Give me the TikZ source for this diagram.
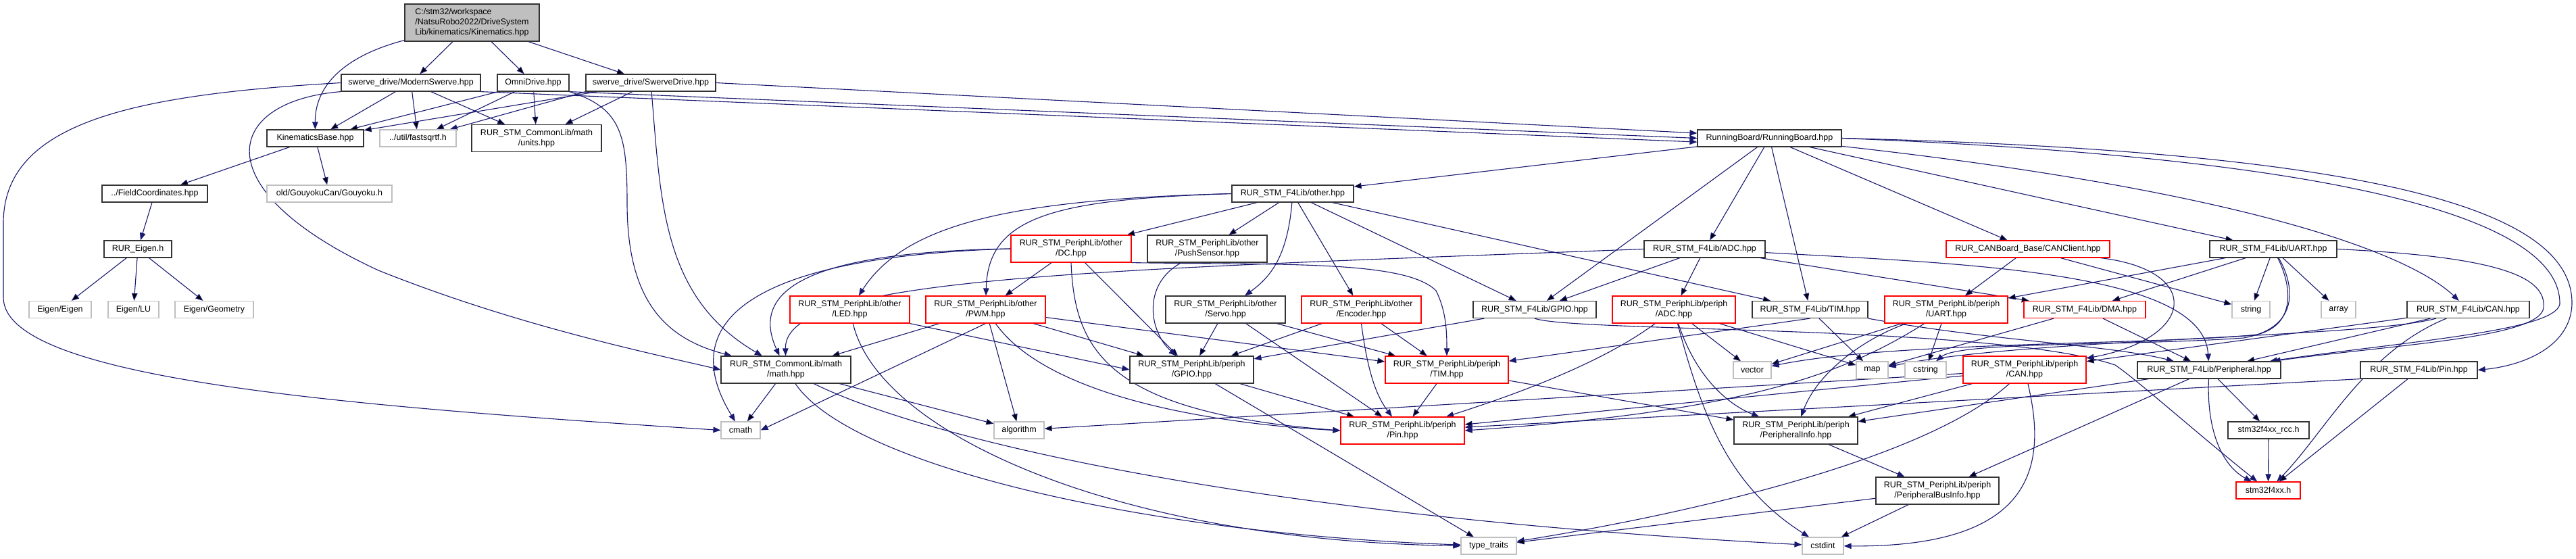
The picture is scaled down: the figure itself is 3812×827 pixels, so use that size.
\documentclass[tikz,border=0pt]{standalone}
\usepackage{fontspec}
\setmainfont{Liberation Sans}
\usepackage{tikz}
\usetikzlibrary{arrows.meta, backgrounds}

\definecolor{depblue}{RGB}{25,25,112}
\definecolor{sysgray}{RGB}{191,191,191}
\newcommand{\graphfont}{\fontsize{12.5}{15}\selectfont}

\begin{document}
\begin{tikzpicture}[x=1pt, y=-1pt, every node/.style={font=\graphfont},
    hdr/.style={draw=black!80, fill=white, line width=1.2pt, inner sep=0pt, align=center, minimum height=25},
    two/.style={minimum height=40},
    sys/.style={hdr, draw=sysgray},
    trunc/.style={hdr, draw=red},
    dep/.style={draw=depblue, line width=1.1pt, -{Triangle[length=11pt, width=8.5pt]}}]

    % 0. canvas of the whole graph
    \useasboundingbox (0,0) rectangle (3812,827);

    % 1. Kinematics.hpp and the drive headers
    \node[hdr, fill=sysgray, align=left, minimum width=199, minimum height=55] (root) at (698.5,33.5)
        {C:/stm32/workspace\\/NatsuRobo2022/DriveSystem\\Lib/kinematics/Kinematics.hpp};
    \node[hdr, minimum width=206] (modern) at (608,122.5) {swerve\_drive/ModernSwerve.hpp};
    \node[hdr, minimum width=106] (omni) at (789,122.5) {OmniDrive.hpp};
    \node[hdr, minimum width=192] (swerve) at (963,122.5) {swerve\_drive/SwerveDrive.hpp};

    % 2. second and third row
    \node[hdr, minimum width=143] (kbase) at (466.5,204.5) {KinematicsBase.hpp};
    \node[sys, minimum width=113] (fsqrt) at (618.5,204.5) {../util/fastsqrtf.h};
    \node[hdr, two, minimum width=192] (units) at (794,204.5) {RUR\_STM\_CommonLib/math\\/units.hpp};
    \node[hdr, minimum width=213] (rb) at (2618.5,204.5) {RunningBoard/RunningBoard.hpp};
    \node[hdr, minimum width=156] (field) at (229,286.5) {../FieldCoordinates.hpp};
    \node[sys, minimum width=185] (gouyoku) at (487.5,286.5) {old/GouyokuCan/Gouyoku.h};
    \node[hdr, minimum width=180] (other) at (1913,286.5) {RUR\_STM\_F4Lib/other.hpp};

    % 3. fourth row
    \node[hdr, minimum width=100] (eigen) at (204,368.5) {RUR\_Eigen.h};
    \node[trunc, two, minimum width=178] (dc) at (1585,368) {RUR\_STM\_PeriphLib/other\\/DC.hpp};
    \node[hdr, two, minimum width=177] (push) at (1786.5,368) {RUR\_STM\_PeriphLib/other\\/PushSensor.hpp};
    \node[hdr, minimum width=179] (adcf) at (2522.5,368.5) {RUR\_STM\_F4Lib/ADC.hpp};
    \node[trunc, minimum width=242] (canclient) at (3001,368.5) {RUR\_CANBoard\_Base/CANClient.hpp};
    \node[hdr, minimum width=188] (uartf) at (3364,368.5) {RUR\_STM\_F4Lib/UART.hpp};

    % 4. fifth row
    \node[sys, minimum width=92] (eeigen) at (89,458) {Eigen/Eigen};
    \node[sys, minimum width=75] (elu) at (197.5,458) {Eigen/LU};
    \node[sys, minimum width=116] (egeom) at (317,458) {Eigen/Geometry};
    \node[trunc, two, minimum width=177] (led) at (1257.5,458) {RUR\_STM\_PeriphLib/other\\/LED.hpp};
    \node[trunc, two, minimum width=177] (pwm) at (1458.5,458) {RUR\_STM\_PeriphLib/other\\/PWM.hpp};
    \node[hdr, two, minimum width=177] (servo) at (1813.5,458) {RUR\_STM\_PeriphLib/other\\/Servo.hpp};
    \node[trunc, two, minimum width=177] (encoder) at (2014.5,458) {RUR\_STM\_PeriphLib/other\\/Encoder.hpp};
    \node[hdr, minimum width=182] (gpiof) at (2271,458) {RUR\_STM\_F4Lib/GPIO.hpp};
    \node[trunc, two, minimum width=182] (adcp) at (2477,458) {RUR\_STM\_PeriphLib/periph\\/ADC.hpp};
    \node[hdr, minimum width=171] (timf) at (2678.5,458) {RUR\_STM\_F4Lib/TIM.hpp};
    \node[trunc, two, minimum width=182] (uartp) at (2880,458) {RUR\_STM\_PeriphLib/periph\\/UART.hpp};
    \node[trunc, minimum width=180] (dmaf) at (3085,458) {RUR\_STM\_F4Lib/DMA.hpp};
    \node[sys, minimum width=56] (string) at (3331,458) {string};
    \node[sys, minimum width=51] (array) at (3460.5,458) {array};
    \node[hdr, minimum width=181] (canf) at (3652.5,458) {RUR\_STM\_F4Lib/CAN.hpp};

    % 5. sixth row
    \node[hdr, two, minimum width=192] (math) at (1163,547) {RUR\_STM\_CommonLib/math\\/math.hpp};
    \node[hdr, two, minimum width=183] (gpiop) at (1763.5,547) {RUR\_STM\_PeriphLib/periph\\/GPIO.hpp};
    \node[trunc, two, minimum width=182] (timp) at (2141,547) {RUR\_STM\_PeriphLib/periph\\/TIM.hpp};
    \node[sys, minimum width=56] (vector) at (2593,547.5) {vector};
    \node[sys, minimum width=47] (map) at (2770.5,547.5) {map};
    \node[sys, minimum width=61] (cstring) at (2849.5,547.5) {cstring};
    \node[trunc, two, minimum width=182] (canp) at (2996,547) {RUR\_STM\_PeriphLib/periph\\/CAN.hpp};
    \node[hdr, minimum width=212] (periphf) at (3269,547.5) {RUR\_STM\_F4Lib/Peripheral.hpp};
    \node[hdr, minimum width=173] (pinf) at (3579.5,547.5) {RUR\_STM\_F4Lib/Pin.hpp};

    % 6. bottom rows
    \node[sys, minimum width=58] (cmath) at (1096,636.5) {cmath};
    \node[sys, minimum width=74] (algorithm) at (1508,636.5) {algorithm};
    \node[trunc, two, minimum width=183] (pinp) at (2075.5,637) {RUR\_STM\_PeriphLib/periph\\/Pin.hpp};
    \node[hdr, two, minimum width=183] (pinfo) at (2657.5,637) {RUR\_STM\_PeriphLib/periph\\/PeripheralInfo.hpp};
    \node[hdr, minimum width=120] (rcc) at (3357,636.5) {stm32f4xx\_rcc.h};
    \node[hdr, two, minimum width=182] (businfo) at (2867,726) {RUR\_STM\_PeriphLib/periph\\/PeripheralBusInfo.hpp};
    \node[trunc, minimum width=95] (stm) at (3356.5,725.5) {stm32f4xx.h};
    \node[sys, minimum width=82] (traits) at (2203,807.5) {type\_traits};
    \node[sys, minimum width=61] (cstdint) at (2697.5,807.5) {cstdint};

    \begin{pgfonlayer}{background}
    \fill[white] (0,0) rectangle (3812,827);

    % 7. includes of the top headers
    \draw[dep] (root) edge (modern) edge (omni) edge (swerve);
    \draw[dep] (root) .. controls (520,80) and (466,120) .. (kbase);
    \draw[dep] (modern) edge (kbase) edge (fsqrt) edge (units);
    \draw[dep] (omni) edge (kbase) edge (fsqrt) edge (units);
    \draw[dep] (swerve) edge (kbase) edge (units);
    \draw[dep] (swerve.south west) -- (fsqrt);
    \draw[dep] (modern.south east) -- (rb.183);
    \draw[dep] (omni.south east) -- (rb.180);
    \draw[dep] (swerve.east) -- (rb.176);
    \draw[dep] (modern.south west) .. controls (330,150) and (300,280) .. (560,400)
        .. controls (760,480) and (950,520) .. (math.west);
    \draw[dep] (modern.west) .. controls (200,140) and (5,180) .. (5,330) -- (5,440)
        .. controls (5,560) and (500,600) .. (cmath.west);
    \draw[dep] (omni.south east) .. controls (920,160) and (928,200) .. (928,300)
        .. controls (928,440) and (980,500) .. (math);
    \draw[dep] (swerve) .. controls (978,300) and (980,440) .. (math);
    \draw[dep] (kbase) edge (field) edge (gouyoku);
    \draw[dep] (field) -- (eigen);
    \draw[dep] (eigen) edge (eeigen) edge (elu) edge (egeom);

    % 8. RunningBoard and other.hpp
    \draw[dep] (rb) edge (other) edge (gpiof) edge (adcf) edge (timf) edge (canclient) edge (uartf);
    \draw[dep] (rb) .. controls (3300,280) and (3560,370) .. (canf);
    \draw[dep] (rb.east) .. controls (3500,235) and (3790,330) .. (3788,450)
        .. controls (3780,490) and (3560,505) .. (periphf);
    \draw[dep] (rb.east) .. controls (3560,225) and (3808,320) .. (3806,450)
        .. controls (3804,510) and (3740,540) .. (pinf.east);
    \draw[dep] (other) edge (dc) edge (push) edge (encoder) edge (gpiof) edge (timf);
    \draw[dep] (other) .. controls (1905,380) and (1880,410) .. (servo);
    \draw[dep] (other.west) .. controls (1500,295) and (1340,330) .. (led);
    \draw[dep] (other.west) .. controls (1560,295) and (1462,320) .. (pwm);

    % 9. PeriphLib/other headers
    \draw[dep] (dc) edge (pwm) edge (gpiop);
    \draw[dep] (dc.west) .. controls (1250,372) and (1100,410) .. (math);
    \draw[dep] (dc.west) .. controls (1100,380) and (1000,480) .. (cmath);
    \draw[dep] (dc.south) .. controls (1590,520) and (1640,610) .. (pinp.west);
    \draw[dep] (dc.south east) .. controls (1900,392) and (2080,385) .. (2125,430)
        .. controls (2140,460) and (2141,490) .. (timp);
    \draw[dep] (push) .. controls (1690,420) and (1700,490) .. (gpiop);
    \draw[dep] (led.south east) -- (gpiop.west);
    \draw[dep] (led) .. controls (1300,640) and (1650,800) .. (traits.west);
    \draw[dep] (pwm) edge (math) edge (algorithm) edge (gpiop) edge (timp);
    \draw[dep] (pwm.south) -- (cmath.east);
    \draw[dep] (pwm) .. controls (1560,600) and (1850,630) .. (pinp.west);
    \draw[dep] (servo) edge (gpiop) edge (timp) edge (pinp);
    \draw[dep] (encoder) edge (gpiop) edge (timp);
    \draw[dep] (encoder.south) .. controls (2025,560) and (2040,590) .. (pinp);

    % 10. F4Lib headers
    \draw[dep] (adcf) edge (adcp) edge (gpiof) edge (dmaf);
    \draw[dep] (adcf.west) .. controls (1600,400) and (1160,410) .. (math);
    \draw[dep] (adcf) .. controls (2900,390) and (3260,400) .. (periphf);
    \draw[dep] (adcp) edge (vector) edge (map);
    \draw[dep] (adcp) .. controls (2380,530) and (2270,575) .. (pinp);
    \draw[dep] (adcp) .. controls (2510,560) and (2560,600) .. (pinfo);
    \draw[dep] (adcp) .. controls (2520,620) and (2560,720) .. (cstdint);
    \draw[dep] (gpiof) -- (gpiop);
    \draw[dep] (gpiof.south) .. controls (2330,492) and (2950,480) .. (3130,540)
        .. controls (3160,560) and (3250,640) .. (stm);
    \draw[dep] (timf.south) -- (timp);
    \draw[dep] (timf) edge (map);
    \draw[dep] (timf.south east) .. controls (2950,505) and (3120,510) .. (periphf);
    \draw[dep] (uartp) edge (vector) edge (cstring);
    \draw[dep] (uartp) .. controls (2760,500) and (2690,550) .. (pinfo);
    \draw[dep] (uartp) .. controls (2720,560) and (2560,610) .. (pinp.east);
    \draw[dep] (dmaf) edge (map) edge (periphf);
    \draw[dep] (canclient) edge (uartp) edge (string);
    \draw[dep] (canclient) .. controls (3260,400) and (3250,500) .. (canp);
    \draw[dep] (uartf) edge (uartp) edge (dmaf) edge (string) edge (array);
    \draw[dep] (uartf) .. controls (3390,420) and (3400,480) .. (3340,495)
        .. controls (3200,510) and (2800,505) .. (vector);
    \draw[dep] (uartf) .. controls (3395,420) and (3405,485) .. (3320,500)
        .. controls (3150,512) and (2900,505) .. (cstring);
    \draw[dep] (uartf.east) .. controls (3700,380) and (3768,410) .. (3764,455)
        .. controls (3760,500) and (3540,510) .. (periphf);
    \draw[dep] (canf) edge (canp) edge (periphf);
    \draw[dep] (canf) .. controls (3500,500) and (3000,500) .. (map);
    \draw[dep] (canf) .. controls (3500,520) and (3440,640) .. (stm);

    % 11. lowest headers
    \draw[dep] (math) edge (cmath) edge (algorithm);
    \draw[dep] (math) .. controls (1260,690) and (1700,790) .. (traits);
    \draw[dep] (math) .. controls (1350,640) and (1800,760) .. (cstdint);
    \draw[dep] (gpiop) edge (pinp) edge (traits);
    \draw[dep] (timp) edge (pinp) edge (pinfo);
    \draw[dep] (canp) edge (pinfo) edge (pinp) edge (algorithm);
    \draw[dep] (canp) .. controls (2850,680) and (2500,760) .. (traits);
    \draw[dep] (canp) .. controls (3030,690) and (3010,810) .. (cstdint);
    \draw[dep] (periphf) edge (rcc) edge (pinfo) edge (businfo);
    \draw[dep] (periphf) .. controls (3265,640) and (3290,690) .. (stm);
    \draw[dep] (pinf) edge (stm);
    \draw[dep] (pinf.south west) -- (pinp);
    \draw[dep] (rcc) -- (stm);
    \draw[dep] (pinfo) -- (businfo);
    \draw[dep] (businfo) edge (cstdint) edge (traits);
    \end{pgfonlayer}
\end{tikzpicture}
\end{document}
